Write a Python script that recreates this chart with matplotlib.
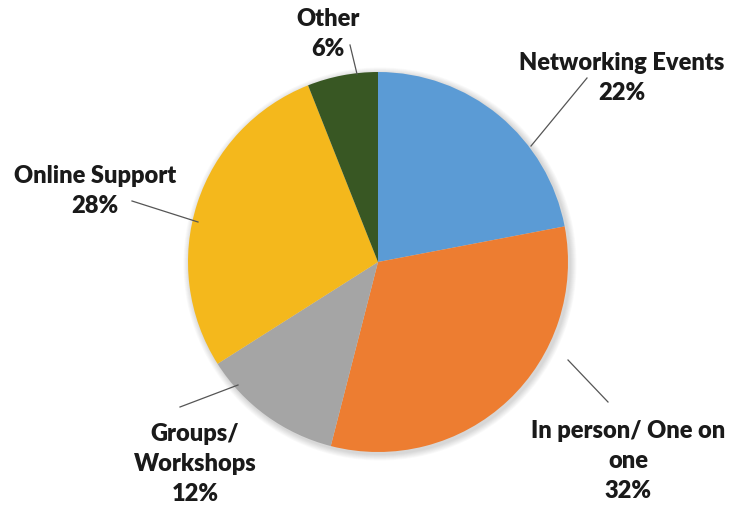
import matplotlib.pyplot as plt
from matplotlib.patches import Circle

# Support channel breakdown
categories = ['Networking Events', 'In person/ One on\none', 'Groups/\nWorkshops',
              'Online Support', 'Other']
shares = [22, 32, 12, 28, 6]
colors = ['#5B9BD5', '#ED7D31', '#A5A5A5', '#F4B81C', '#385723']

# label anchor (x, y of text centre) and leader line ends, in pixel space
label_pos = [(622, 78), (628, 461), (195, 464), (95, 191), (328, 34)]
leaders = [((587, 78), (531, 146)), ((608, 402), (568, 360)),
           ((180, 407), (238, 385)), ((132, 201), (198, 222)),
           ((350, 45), (357, 74))]

W, H = 730, 505
cx, cy, r = 378, 262, 190

fig = plt.figure(figsize=(7.3, 5.05), dpi=100)
ax = fig.add_axes([0, 0, 1, 1])

# soft shadow behind the pie
for i in range(8):
    ax.add_patch(Circle((cx + 2, H - cy - 2), r + 1 + i * 0.8, color='black',
                        alpha=0.018, lw=0, zorder=0))

ax.pie(shares, colors=colors, startangle=90, counterclock=False,
       center=(cx, H - cy), radius=r, wedgeprops=dict(linewidth=0))

for name, val, (tx, ty) in zip(categories, shares, label_pos):
    ax.text(tx, H - ty, f'{name}\n{val}%', ha='center', va='center',
            fontsize=17, fontweight='heavy', family='Lato', color='#1a1a1a',
            linespacing=1.42)

for (x0, y0), (x1, y1) in leaders:
    ax.plot([x0, x1], [H - y0, H - y1], color='#555555', lw=0.9)

ax.set_xlim(0, W)
ax.set_ylim(0, H)
ax.set_aspect('equal')
ax.axis('off')

fig.savefig('out.png', dpi=100, facecolor='white')
